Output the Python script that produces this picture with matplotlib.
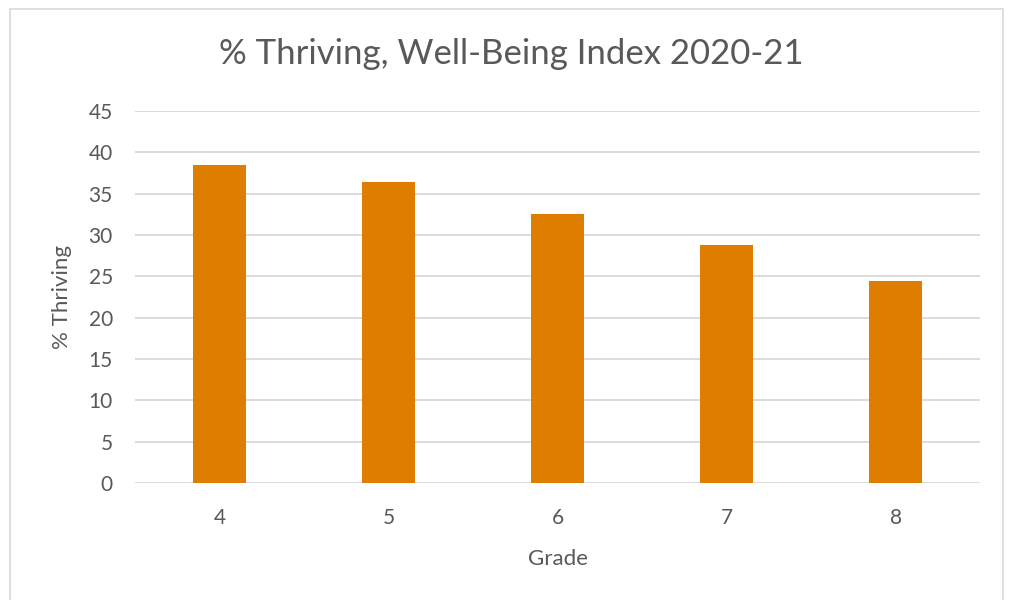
import matplotlib
matplotlib.use("Agg")
import matplotlib.pyplot as plt
from matplotlib.patches import Rectangle

grades = ["4", "5", "6", "7", "8"]
thriving = [38.5, 36.4, 32.5, 28.8, 24.4]
yticks = [0, 5, 10, 15, 20, 25, 30, 35, 40, 45]

TXT = "#595959"
plt.rcParams["font.family"] = ["Lato", "DejaVu Sans"]

fig = plt.figure(figsize=(10.13, 6.0), dpi=100)
ax = fig.add_axes([135 / 1013, 1 - 483 / 600, 845 / 1013, 372 / 600])

ax.bar(grades, thriving, width=0.31, color="#DF7D00", zorder=3)
ax.set_xlim(-0.5, len(grades) - 0.5)
ax.set_ylim(0, 45)
ax.set_yticks(yticks)
ax.grid(axis="y", color="#D9D9D9", linewidth=1.3, zorder=0)
for s in ax.spines.values():
    s.set_visible(False)
ax.tick_params(length=0, labelsize=15, colors=TXT, pad=16)
ax.tick_params(axis="x", pad=18)

ax.set_xlabel("Grade", fontsize=16, color=TXT, labelpad=15)
ax.set_ylabel("% Thriving", fontsize=16, color=TXT, labelpad=12)
fig.text(0.505, 0.91, "% Thriving, Well-Being Index 2020-21", ha="center", va="center",
         fontsize=25, color=TXT)

# light frame around the chart area
fig.patches.append(Rectangle((10 / 1013, -0.01), 993 / 1013, 1 - 9 / 600 + 0.01,
                             transform=fig.transFigure, fill=False,
                             edgecolor="#D9D9D9", linewidth=1.2))

fig.savefig("out.png", dpi=100)
